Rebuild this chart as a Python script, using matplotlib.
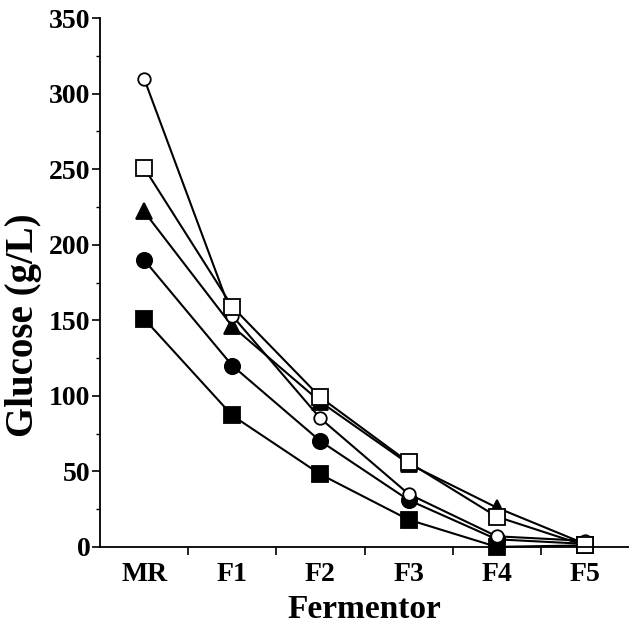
import numpy as np
import matplotlib.pyplot as plt
from matplotlib.ticker import MultipleLocator

stages = ['MR', 'F1', 'F2', 'F3', 'F4', 'F5']

open_circle = [310, 153, 85, 35, 7, 4]
open_square = [251, 159, 99, 56, 20, 1]
filled_triangle = [222, 146, 96, 55, 26, 2]
filled_circle = [190, 120, 70, 31, 5, 2]
filled_square = [151, 87, 48, 18, 0, 1]

plt.rcParams['font.family'] = ['Liberation Serif', 'DejaVu Serif']
plt.rcParams['font.weight'] = 'bold'

fig = plt.figure(figsize=(6.29, 6.25), dpi=100)
ax = fig.add_axes([0.159, 0.125, 0.841, 0.846])

x = np.arange(len(stages))
style = dict(color='black', linewidth=1.5, clip_on=False, markeredgewidth=1.3)
ax.plot(x, filled_square, marker='s', markersize=11, markerfacecolor='black', **style)
ax.plot(x, filled_circle, marker='o', markersize=11, markerfacecolor='black', **style)
ax.plot(x, filled_triangle, marker='^', markersize=11, markerfacecolor='black', **style)
ax.plot(x, open_circle, marker='o', markersize=9, markerfacecolor='white', **style)
ax.plot(x, open_square, marker='s', markersize=11.5, markerfacecolor='white', **style)

ax.set_xlim(-0.5, 5.5)
ax.set_ylim(0, 350)
ax.yaxis.set_major_locator(MultipleLocator(50))
ax.yaxis.set_minor_locator(MultipleLocator(25))
ax.set_xticks(x[:-1] + 0.5)
ax.set_xticklabels([''] * 5)
ax.set_xticks(x, minor=True)
ax.set_xticklabels(stages, minor=True)
ax.tick_params(axis='x', which='minor', length=0, pad=11, labelsize=20)
ax.tick_params(axis='x', which='major', length=6, width=1.2, direction='out')
ax.tick_params(axis='y', which='major', length=6, width=1.2, labelsize=20, pad=1)
ax.tick_params(axis='y', which='minor', length=3, width=1)

for s in ['top', 'right']:
    ax.spines[s].set_visible(False)
for s in ['left', 'bottom']:
    ax.spines[s].set_linewidth(1.3)

ax.set_xlabel('Fermentor', fontsize=24, fontweight='bold', labelpad=5)
ax.set_ylabel('Glucose (g/L)', fontsize=28, fontweight='bold')
ax.yaxis.set_label_coords(-0.11, 0.42)

fig.savefig('out.png', dpi=100)
